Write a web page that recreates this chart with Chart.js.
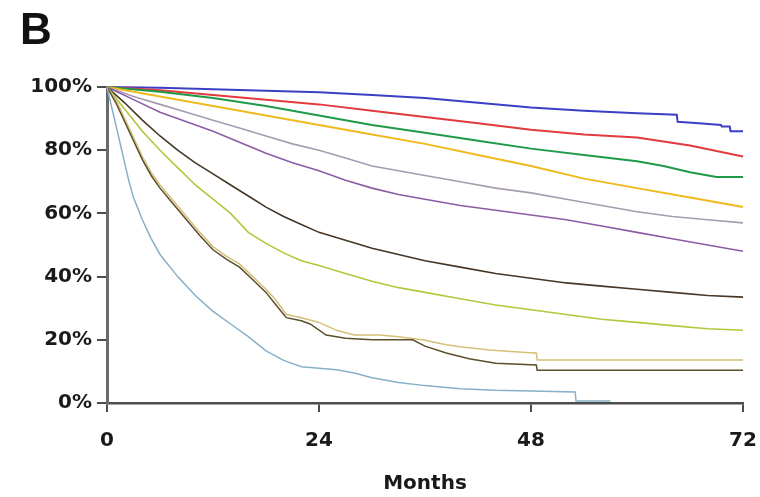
<!DOCTYPE html>
<html>
<head>
<meta charset="utf-8">
<script src="https://cdn.jsdelivr.net/npm/chart.js@4.4.1/dist/chart.umd.min.js"></script>
<style>
  html, body { margin: 0; padding: 0; background: #ffffff; }
  #wrap { width: 760px; height: 497px; }
</style>
</head>
<body>
<div id="wrap"><canvas id="c" width="760" height="497"></canvas></div>
<script>
// ---- tick labels ----
const xTicks = [0, 24, 48, 72];
const yTicks = [0, 20, 40, 60, 80, 100];
const panelLabel = 'B';
const xTitle = 'Months';

// ---- series (months, % surviving) ----
const blueMonths = [0, 6, 12, 18, 24, 30, 36, 42, 48, 54, 60, 64.5, 64.6, 67, 69.5, 69.6, 70.5, 70.6, 72];
const blueSurv   = [100, 99.8, 99.3, 98.8, 98.3, 97.5, 96.5, 95, 93.5, 92.5, 91.7, 91.2, 89, 88.5, 88, 87.5, 87.5, 86, 86];

const redMonths = [0, 6, 12, 18, 24, 30, 36, 42, 48, 54, 60, 66, 72];
const redSurv   = [100, 99, 97.5, 96, 94.5, 92.5, 90.5, 88.5, 86.5, 85, 84, 81.5, 78];

const greenMonths = [0, 6, 12, 18, 24, 30, 36, 42, 48, 54, 60, 63, 66, 69, 72];
const greenSurv   = [100, 98.5, 96.5, 94, 91, 88, 85.5, 83, 80.5, 78.5, 76.5, 75, 73, 71.5, 71.5];

const yellowMonths = [0, 6, 12, 18, 24, 30, 36, 42, 48, 54, 60, 66, 72];
const yellowSurv   = [100, 97, 94, 91, 88, 85, 82, 78.5, 75, 71, 68, 65, 62];

const grayMonths = [0, 3, 6, 9, 12, 15, 18, 21, 24, 27, 30, 33, 36, 40, 44, 48, 52, 56, 60, 64, 68, 72];
const graySurv   = [100, 97, 94.5, 92, 89.5, 87, 84.5, 82, 80, 77.5, 75, 73.5, 72, 70, 68, 66.5, 64.5, 62.5, 60.5, 59, 58, 57];

const purpleMonths = [0, 3, 6, 9, 12, 15, 18, 21, 24, 27, 30, 33, 36, 40, 44, 48, 52, 56, 60, 64, 68, 72];
const purpleSurv   = [100, 96, 92, 89, 86, 82.5, 79, 76, 73.5, 70.5, 68, 66, 64.5, 62.5, 61, 59.5, 58, 56, 54, 52, 50, 48];

const brownMonths = [0, 2, 4, 6, 8, 10, 12, 14, 16, 18, 20, 22, 24, 27, 30, 33, 36, 40, 44, 48, 52, 56, 60, 64, 68, 72];
const brownSurv   = [100, 95, 89.5, 84.5, 80, 76, 72.5, 69, 65.5, 62, 59, 56.5, 54, 51.5, 49, 47, 45, 43, 41, 39.5, 38, 37, 36, 35, 34, 33.5];

const limeMonths = [0, 2, 4, 6, 8, 10, 12, 14, 16, 18, 20, 22, 24, 27, 30, 33, 36, 40, 44, 48, 52, 56, 60, 64, 68, 72];
const limeSurv   = [100, 93, 86, 80, 74.5, 69, 64.5, 60, 54, 50.5, 47.5, 45, 43.5, 41, 38.5, 36.5, 35, 33, 31, 29.5, 28, 26.5, 25.5, 24.5, 23.5, 23];

const lightTanMonths = [0, 1, 2, 3, 4, 5, 6, 7.5, 9, 10.5, 12, 13.5, 15, 16.5, 18, 19, 20.3, 22, 24, 26, 28, 30.8, 33, 35.7, 38.4, 40, 43.3, 47.4, 48.6, 48.7, 72];
const lightTanSurv   = [100, 96, 90, 84, 78, 73, 69, 64, 59, 54, 49.5, 46.5, 44, 40, 36, 33, 28, 27, 25.5, 23, 21.5, 21.5, 21, 20, 18.4, 17.8, 16.8, 16, 15.8, 13.6, 13.6];

const darkTanMonths = [0, 1, 2, 3, 4, 5, 6, 7.5, 9, 10.5, 12, 13.5, 15, 16.5, 18, 19, 20.3, 22, 23, 24.8, 27, 30, 34.6, 36, 38.4, 41, 44, 48.6, 48.7, 72];
const darkTanSurv   = [100, 95, 89, 83, 77, 72, 68, 63, 58, 53, 48.5, 45.5, 43, 39, 35, 31.5, 27, 26, 25, 21.5, 20.5, 20, 20, 18, 15.8, 14, 12.6, 12, 10.4, 10.4];

const lightBlueMonths = [0, 0.5, 1, 1.5, 2, 2.5, 3, 4, 5, 6, 8, 10, 12, 14, 16, 18, 20, 22, 24, 26, 28, 30, 33, 36, 40, 44, 48, 53, 53.1, 57];
const lightBlueSurv   = [100, 94, 88, 82, 76, 70, 65, 58, 52, 47, 40, 34, 29, 25, 21, 16.5, 13.5, 11.5, 11, 10.5, 9.5, 8, 6.5, 5.5, 4.5, 4, 3.8, 3.5, 0.6, 0.6];

// ---- build datasets ----
function pts(ms, vs) { return ms.map((m, i) => ({ x: m, y: vs[i] })); }
const seriesDefs = [
  [lightBlueMonths, lightBlueSurv, '#86b0c8', 1.5],
  [darkTanMonths, darkTanSurv, '#5c4e2a', 1.5],
  [lightTanMonths, lightTanSurv, '#d6bf78', 1.5],
  [limeMonths, limeSurv, '#b4c63c', 1.6],
  [brownMonths, brownSurv, '#463626', 1.6],
  [purpleMonths, purpleSurv, '#8b5ca6', 1.6],
  [grayMonths, graySurv, '#a79bb0', 1.6],
  [yellowMonths, yellowSurv, '#f0ba1e', 2],
  [greenMonths, greenSurv, '#1f9a48', 2],
  [redMonths, redSurv, '#e23a3e', 2],
  [blueMonths, blueSurv, '#3b3fc6', 2]
];
const datasets = seriesDefs.map(([ms, vs, col, w]) => ({
  data: pts(ms, vs),
  borderColor: col,
  borderWidth: w,
  pointRadius: 0,
  tension: 0,
  fill: false,
  clip: false
}));

const axisColor = '#4d4d4d';
const tickFont = { family: 'DejaVu Sans', size: 20, weight: 'bold' };

new Chart(document.getElementById('c'), {
  type: 'line',
  data: { datasets },
  options: {
    responsive: false,
    animation: false,
    layout: { padding: { top: 10, left: 20, right: 17, bottom: 0 } },
    plugins: {
      legend: { display: false },
      tooltip: { enabled: false },
      title: {
        display: true,
        text: panelLabel,
        align: 'start',
        color: '#111',
        font: { family: 'Liberation Sans', size: 44, weight: 'bold', lineHeight: 1 },
        padding: { top: 0, bottom: 33 }
      }
    },
    scales: {
      x: {
        type: 'linear',
        min: 0, max: 72,
        afterBuildTicks: (s) => { s.ticks = xTicks.map(v => ({ value: v })); },
        afterFit: (s) => { s.height = 94; s.paddingLeft = 0; s.paddingRight = 0; },
        ticks: { color: '#1a1a1a', font: tickFont, padding: 17, maxRotation: 0 },
        grid: { drawOnChartArea: false, drawTicks: true, tickLength: 9, color: axisColor, lineWidth: 2 },
        border: { display: true, color: axisColor, width: 2.5 },
        title: { display: true, text: xTitle, color: '#1a1a1a', font: { family: 'DejaVu Sans', size: 20, weight: 'bold' }, padding: { top: 0, bottom: 1 } }
      },
      y: {
        type: 'linear',
        min: 0, max: 100,
        afterBuildTicks: (s) => { s.ticks = yTicks.map(v => ({ value: v })); },
        afterFit: (s) => { s.width = 87; },
        ticks: { color: '#1a1a1a', font: tickFont, padding: 5, callback: (v) => v + '%' },
        grid: { drawOnChartArea: false, drawTicks: true, tickLength: 10, color: axisColor, lineWidth: 2 },
        border: { display: true, color: '#6a6a6a', width: 3 }
      }
    }
  }
});
</script>
</body>
</html>
